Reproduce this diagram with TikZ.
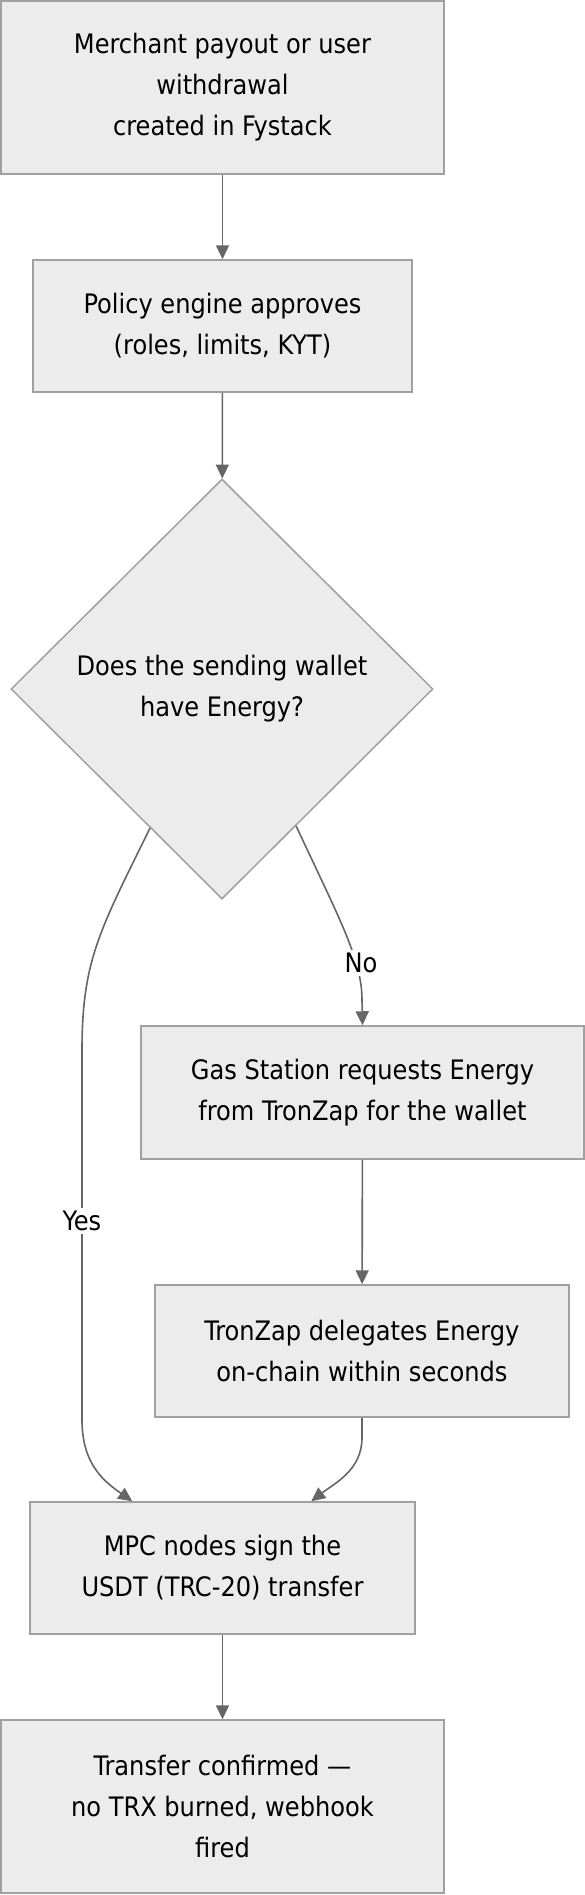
\documentclass[tikz,border=0pt]{standalone}
\usepackage{fontspec}
\setmainfont{DejaVu Sans Condensed}
\usetikzlibrary{shapes.geometric,arrows.meta,calc}
\definecolor{boxfill}{HTML}{ECECEC}
\definecolor{boxline}{HTML}{A0A0A0}
\definecolor{edgecol}{HTML}{666666}
\begin{document}
\begin{tikzpicture}[x=1pt,y=-1pt,
  every node/.style={font=\fontsize{26.8}{41}\selectfont, text=black},
  procbox/.style={draw=boxline, fill=boxfill, line width=1.5pt, align=center, inner sep=0pt},
  decbox/.style={draw=boxline, fill=boxfill, line width=1.5pt, align=center, diamond, inner sep=0pt, minimum width=422pt, minimum height=420pt},
  flow/.style={draw=edgecol, line width=1.6pt, -{Triangle[length=14pt,width=13pt]}},
  elabel/.style={fill=white, inner sep=3pt}
]
\useasboundingbox (0,0) rectangle (585,1895);
\node[procbox, minimum width=443pt, minimum height=173pt] (start) at (222.5,87.5) {Merchant payout or user\\withdrawal\\created in Fystack};
\node[procbox, minimum width=379pt, minimum height=132pt] (policy) at (222.5,326) {Policy engine approves\\(roles, limits, KYT)};
\node[decbox] (dec) at (222,689) {Does the sending wallet\\have Energy?};
\node[procbox, minimum width=443pt, minimum height=133pt] (gas) at (362.5,1092.5) {Gas Station requests Energy\\from TronZap for the wallet};
\node[procbox, minimum width=414pt, minimum height=132pt] (tz) at (362,1351) {TronZap delegates Energy\\on-chain within seconds};
\node[procbox, minimum width=385pt, minimum height=132pt] (mpc) at (222.5,1568) {MPC nodes sign the\\USDT (TRC-20) transfer};
\node[procbox, minimum width=443pt, minimum height=173pt] (done) at (222.5,1806.5) {Transfer confirmed —\\no TRX burned, webhook\\fired};

\coordinate (yesA) at ($(dec.south)!0.34!(dec.west)$);
\coordinate (noA) at ($(dec.south)!0.35!(dec.east)$);
\coordinate (yesB) at ($(mpc.north west)+(103,0)$);
\coordinate (tzB) at ($(mpc.north west)+(282,0)$);

\draw[flow] (start) -- (policy);
\draw[flow] (policy) -- (dec);
\draw[flow] (noA) .. controls (340,920) and (362,960) .. (362,1000) -- (gas.north);
\node[elabel] (nolab) at (361,963) {No};
\draw[flow] (yesA) .. controls (100,930) and (82,960) .. (82,1050) -- (82,1420) .. controls (82,1465) and (105,1482) .. (yesB);
\node[elabel] (yeslab) at (82,1221) {Yes};
\draw[flow] (gas) -- (tz);
\draw[flow] (tz.south) -- ++(0,20) .. controls (362,1470) and (335,1483) .. (tzB);
\draw[flow] (mpc) -- (done);
\end{tikzpicture}
\end{document}
